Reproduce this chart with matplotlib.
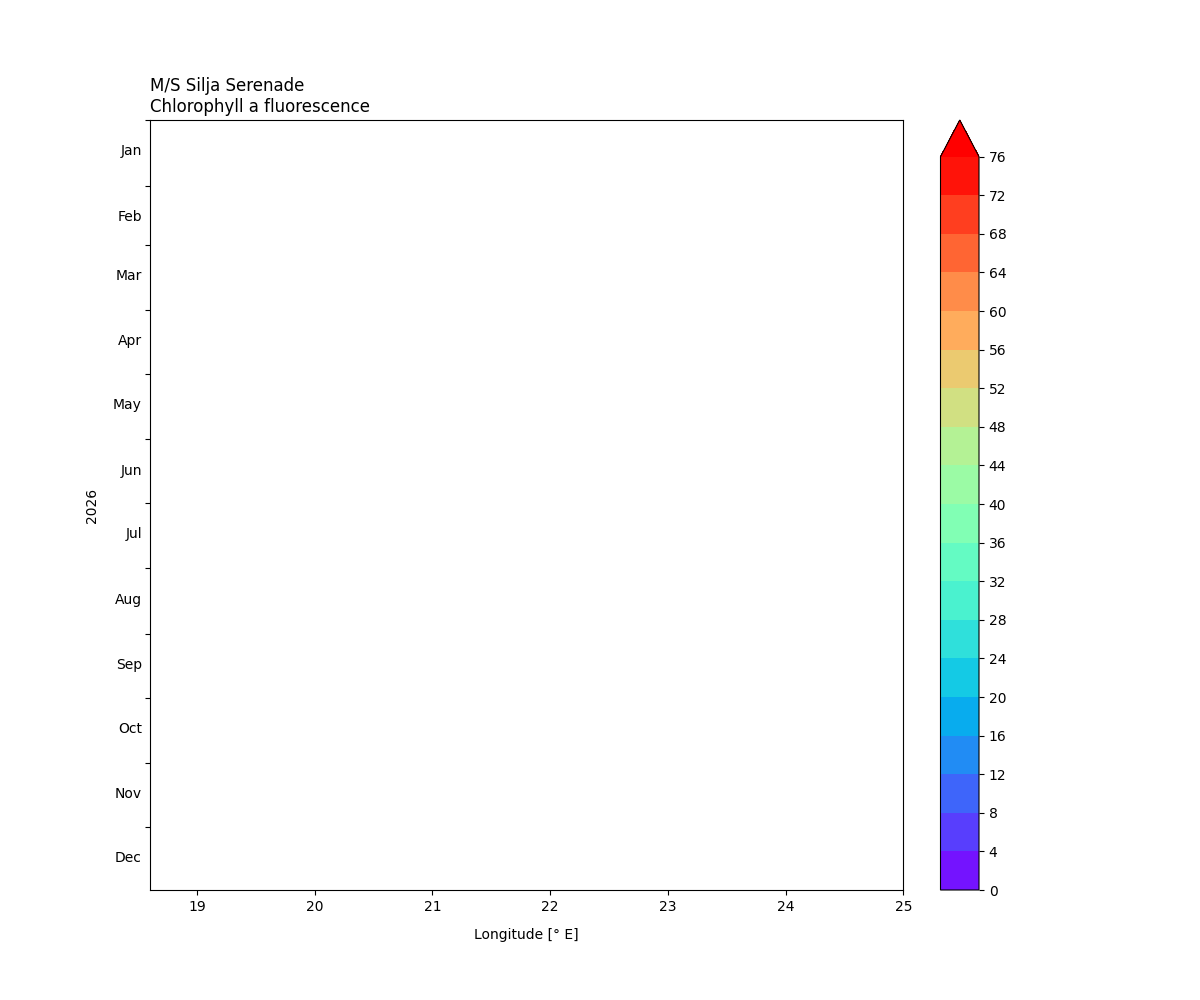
import datetime as dt
import numpy as np
import matplotlib
matplotlib.use('Agg')
import matplotlib.pyplot as plt
import matplotlib.dates as mdates
from matplotlib import colors, cm

# Chart values
year = 2026
lon_range = [18.6, 25.0]
lon_ticks = [19, 20, 21, 22, 23, 24, 25]
chl_levels = np.arange(0, 80, 4)  # 0..76, extend max
ship = 'M/S Silja Serenade'
variable = 'Chlorophyll a fluorescence'

fig, ax = plt.subplots(figsize=(12, 10))

# colours as contourf would give them with extend='max'
mids = (chl_levels[:-1] + chl_levels[1:]) / 2
base = plt.get_cmap('rainbow')
cmap = colors.ListedColormap(base(mids / chl_levels[-1]))
cmap.set_over(base(1.0))
norm = colors.BoundaryNorm(chl_levels, cmap.N)
sm = cm.ScalarMappable(norm=norm, cmap=cmap)

ax.set_xlim(lon_range)
ax.set_xticks(lon_ticks)
ax.set_ylim(dt.datetime(year, 12, 31), dt.datetime(year, 1, 1))
ax.yaxis.set_major_locator(mdates.MonthLocator())
ax.yaxis.set_major_formatter(plt.NullFormatter())
ax.yaxis.set_minor_locator(mdates.MonthLocator(bymonthday=15))
ax.yaxis.set_minor_formatter(mdates.DateFormatter('%b'))
ax.tick_params(axis='y', which='minor', length=0, pad=5.8)

ax.set_xlabel('Longitude [° E]', labelpad=10)
ax.set_ylabel(str(year), labelpad=10)
ax.set_title(ship + '\n' + variable, loc='left')

cb = fig.colorbar(sm, ax=ax, extend='max', ticks=chl_levels, pad=0.04)

plt.savefig('out.png', dpi=100)
plt.close()
